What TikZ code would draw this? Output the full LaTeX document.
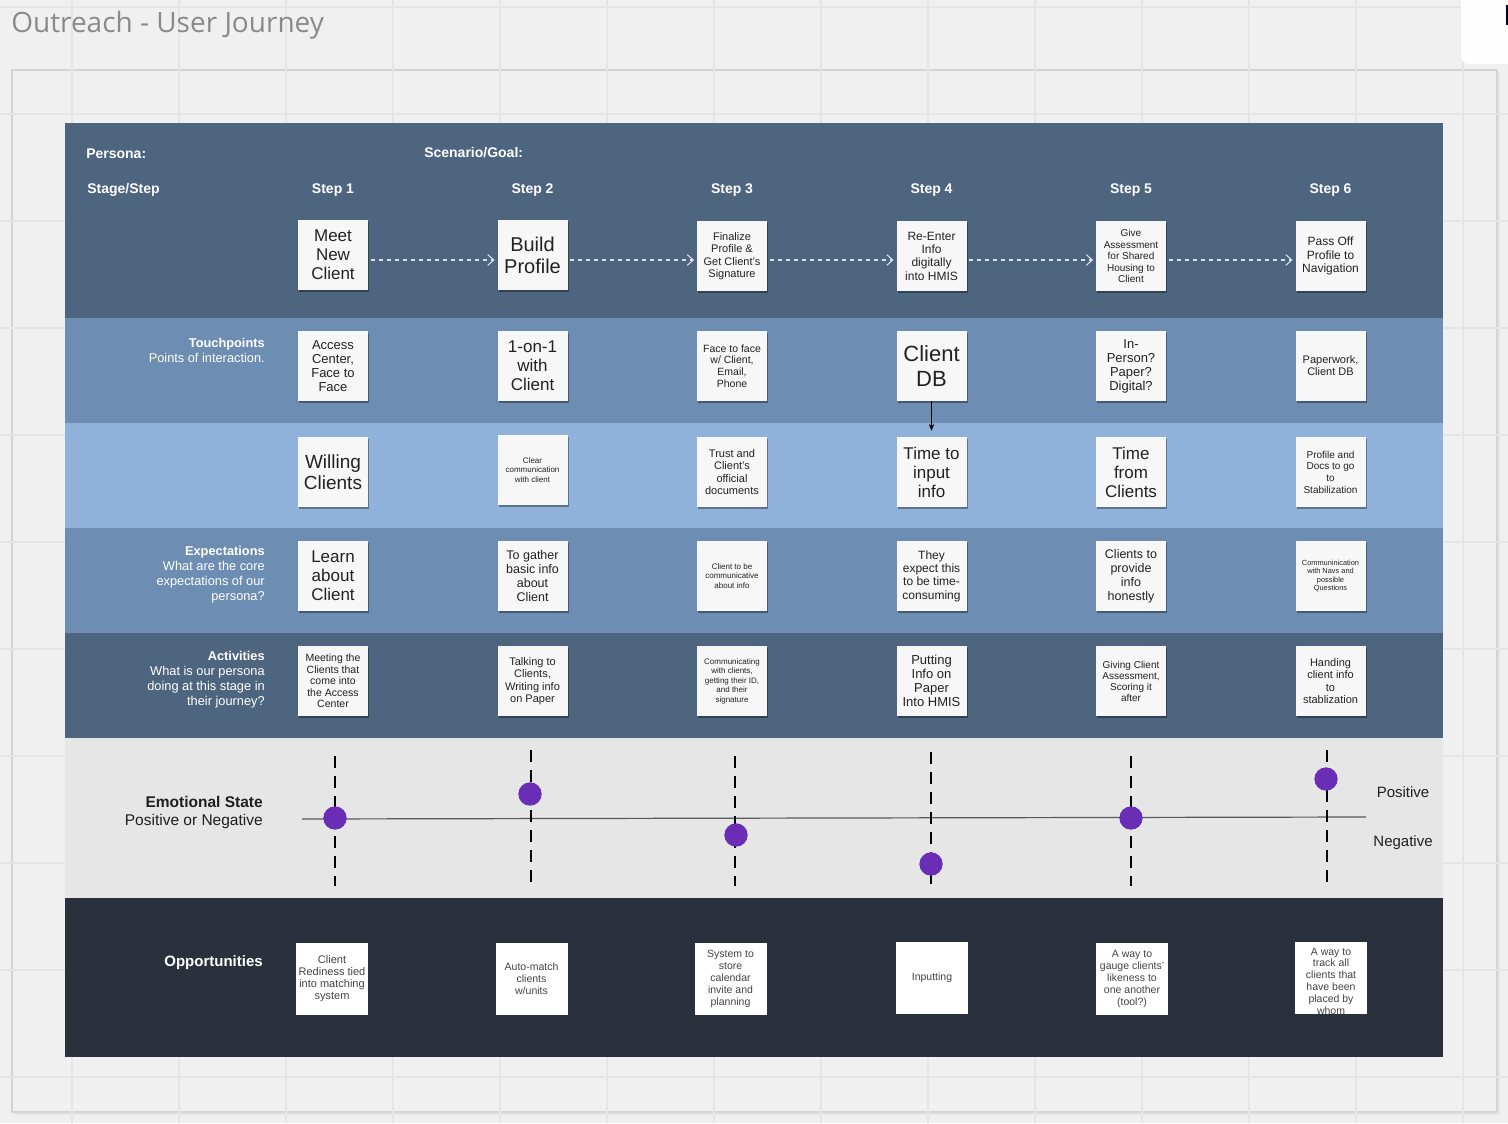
\documentclass[tikz,border=0pt]{standalone}
\usepackage{fontspec}
\setmainfont{Liberation Sans}
\newfontfamily\titlefont{Open Sans}
\usetikzlibrary{shadows,arrows.meta}

% font size given in pixels (size / leading)
\newcommand{\pxf}[2]{\fontsize{\fpeval{#1*0.75}pt}{\fpeval{#2*0.75}pt}\selectfont}

\definecolor{canvas}{HTML}{F0F0F0}
\definecolor{gridln}{HTML}{E5E5E5}
\definecolor{framebd}{HTML}{D4D4D4}
\definecolor{bandA}{HTML}{4E6580}
\definecolor{bandB}{HTML}{6D8DB2}
\definecolor{bandC}{HTML}{90B2DA}
\definecolor{emoband}{HTML}{E6E6E6}
\definecolor{oppband}{HTML}{2A313D}
\definecolor{notefill}{HTML}{F7F7F7}
\definecolor{notetext}{HTML}{222222}
\definecolor{dotpurple}{HTML}{6A2DB6}
\definecolor{titlegray}{HTML}{8A8A8A}
\definecolor{flowgray}{HTML}{DCE2EA}

\begin{document}
\begin{tikzpicture}[x=0.75pt,y=-0.75pt,
  note/.style={fill=notefill, minimum width=52.5pt, minimum height=52.5pt,
    inner sep=1pt, align=center, text=notetext,
    drop shadow={shadow xshift=0.8pt, shadow yshift=-1.3pt, opacity=0.35, fill=black}},
  opp/.style={fill=white, minimum width=54pt, minimum height=54pt,
    inner sep=1pt, align=center, text=notetext!85!white, font=\pxf{10.5}{11.8}},
  hdr/.style={text=white, font=\bfseries\pxf{14}{16}, inner sep=0},
  lbl/.style={text=white, align=right, anchor=east, inner sep=0, font=\pxf{12.8}{15}},
  flow/.style={flowgray, line width=0.8pt, dash pattern=on 3pt off 3pt,
    -{Straight Barb[length=4.5pt,width=8pt]}, shorten <=2pt, shorten >=2pt},
  stagedash/.style={black, line width=1.5pt, dash pattern=on 9pt off 6pt},
  mood/.style={circle, fill=dotpurple, minimum size=17.5pt, inner sep=0}]

\useasboundingbox (0,0) rectangle (1508,1123);
\fill[canvas] (0,0) rectangle (1508,1123);

% board frame with a soft shadow
\fill[black!10] (14,73) rectangle (1500,1115);
\filldraw[fill=canvas, draw=framebd, line width=1.2pt] (12,70) rectangle (1497,1112);

% canvas grid
\foreach \gx in {72,179,...,1500} \draw[gridln, line width=0.8pt] (\gx,0) -- (\gx,1123);
\foreach \gy in {7,114,...,1123} \draw[gridln, line width=0.8pt] (0,\gy) -- (1508,\gy);

% panel in the top right corner
\fill[white!97!canvas, rounded corners=6pt] (1461,-10) rectangle (1520,64);
\fill[black!85!blue] (1506,5) rectangle (1508,25);

% title
\node[anchor=west, inner sep=0, text=titlegray, font=\titlefont\pxf{28}{32}] (title) at (11,25) {Outreach - User Journey};

% swimlane bands
\fill[bandA]   (65,123) rectangle (1443,318);
\fill[bandB]   (65,318) rectangle (1443,423);
\fill[bandC]   (65,423) rectangle (1443,528);
\fill[bandB]   (65,528) rectangle (1443,633);
\fill[bandA]   (65,633) rectangle (1443,738);
\fill[emoband] (65,738) rectangle (1443,898);
\fill[oppband] (65,898) rectangle (1443,1057);

% header texts
\node[hdr, anchor=west] (persona) at (86,154) {Persona:};
\node[hdr, anchor=west] (scenario) at (424,153) {Scenario/Goal:};
\node[hdr, anchor=west] (stage) at (87,190) {Stage/Step};
\node[hdr] (h1) at (333,190) {Step 1};
\node[hdr] (h2) at (532.5,190) {Step 2};
\node[hdr] (h3) at (732,190) {Step 3};
\node[hdr] (h4) at (931.5,190) {Step 4};
\node[hdr] (h5) at (1131,190) {Step 5};
\node[hdr] (h6) at (1330.5,190) {Step 6};

% lane labels
\node[lbl] (ltouch) at (265,350) {{\bfseries Touchpoints}\\Points of interaction.};
\node[lbl] (lexp) at (265,575) {{\bfseries Expectations}\\What are the core\\expectations of our\\persona?};
\node[lbl] (lact) at (265,680) {{\bfseries Activities}\\What is our persona\\doing at this stage in\\their journey?};

% steps
\node[note, font=\pxf{17}{19}]   (s1) at (333,255)    {Meet\\New\\Client};
\node[note, font=\pxf{20}{22}]   (s2) at (532.5,255)  {Build\\Profile};
\node[note, font=\pxf{11}{12.5}] (s3) at (732,256)    {Finalize\\Profile \&\\Get Client's\\Signature};
\node[note, font=\pxf{12}{13.3}] (s4) at (931.5,256)  {Re-Enter\\Info\\digitally\\into HMIS};
\node[note, font=\pxf{10}{11.5}] (s5) at (1131,256)   {Give\\Assessment\\for Shared\\Housing to\\Client};
\node[note, font=\pxf{12}{13.5}] (s6) at (1330.5,256) {Pass Off\\Profile to\\Navigation};

\draw[flow] (s1.east |- 0,260) -- (s2.west |- 0,260);
\draw[flow] (s2.east |- 0,260) -- (s3.west |- 0,260);
\draw[flow] (s3.east |- 0,260) -- (s4.west |- 0,260);
\draw[flow] (s4.east |- 0,260) -- (s5.west |- 0,260);
\draw[flow] (s5.east |- 0,260) -- (s6.west |- 0,260);

% touchpoints
\node[note, font=\pxf{13}{14}]     (t1) at (333,366)    {Access\\Center,\\Face to\\Face};
\node[note, font=\pxf{17}{19}]     (t2) at (532.5,366)  {1-on-1\\with\\Client};
\node[note, font=\pxf{10.5}{11.7}] (t3) at (732,366)    {Face to face\\w/ Client,\\Email,\\Phone};
\node[note, font=\pxf{22}{25}]     (t4) at (931.5,366)  {Client\\DB};
\node[note, font=\pxf{13}{14}]     (t5) at (1131,366)   {In-\\Person?\\Paper?\\Digital?};
\node[note, font=\pxf{11}{12}]     (t6) at (1330.5,366) {Paperwork,\\Client DB};

% third lane
\node[note, font=\pxf{19}{21}]     (u1) at (333,472)    {Willing\\Clients};
\node[note, font=\pxf{8}{9.5}]     (u2) at (532.5,470)  {Clear\\communication\\with client};
\node[note, font=\pxf{11}{12.3}]   (u3) at (732,472)    {Trust and\\Client's\\official\\documents};
\node[note, font=\pxf{17}{19}]     (u4) at (931.5,472)  {Time to\\input\\info};
\node[note, font=\pxf{17}{19}]     (u5) at (1131,472)   {Time\\from\\Clients};
\node[note, font=\pxf{10}{11.7}]   (u6) at (1330.5,472) {Profile and\\Docs to go\\to\\Stabilization};

\draw[black, line width=0.6pt, -{Stealth[length=5pt,width=4pt]}, shorten >=4.5pt] (t4.south) -- (u4.north);

% expectations
\node[note, font=\pxf{17}{19}]     (e1) at (333,576)    {Learn\\about\\Client};
\node[note, font=\pxf{12.5}{14}]   (e2) at (532.5,576)  {To gather\\basic info\\about\\Client};
\node[note, font=\pxf{8}{9.5}]     (e3) at (732,576)    {Client to be\\communicative\\about info};
\node[note, font=\pxf{12}{13.3}]   (e4) at (931.5,576)  {They\\expect this\\to be time-\\consuming};
\node[note, font=\pxf{12.5}{14}]   (e5) at (1131,576)   {Clients to\\provide\\info\\honestly};
\node[note, font=\pxf{7.4}{8.5}]   (e6) at (1330.5,576) {Communinication\\with Navs and\\possible\\Questions};

% activities
\node[note, font=\pxf{10.5}{11.5}] (a1) at (333,681)    {Meeting the\\Clients that\\come into\\the Access\\Center};
\node[note, font=\pxf{11}{12.3}]   (a2) at (532.5,681)  {Talking to\\Clients,\\Writing info\\on Paper};
\node[note, font=\pxf{8}{9.5}]     (a3) at (732,681)    {Communicating\\with clients,\\getting their ID,\\and their\\signature};
\node[note, font=\pxf{13}{14}]     (a4) at (931.5,681)  {Putting\\Info on\\Paper\\Into HMIS};
\node[note, font=\pxf{10}{11}]     (a5) at (1131,681)   {Giving Client\\Assessment,\\Scoring it\\after};
\node[note, font=\pxf{11}{12.3}]   (a6) at (1330.5,681) {Handing\\client info\\to\\stablization};

% emotional state
\node[anchor=east, align=right, inner sep=0, text=black!88, font=\pxf{15.5}{18}] (lemo) at (263,812)
  {{\bfseries Emotional State}\\Positive or Negative};
\node[inner sep=0, text=black!88, font=\pxf{15}{18}] (pos) at (1403,792) {Positive};
\node[inner sep=0, text=black!88, font=\pxf{15}{18}] (neg) at (1403,843) {Negative};

\coordinate (emoL) at (302,819);
\coordinate (emoR) at (1366,817);
\draw[black!65, line width=0.9pt] (emoL) -- (emoR);

\foreach \i/\vx/\top in {1/335/756, 2/531/750, 3/735/756, 4/931/752, 5/1131/756, 6/1327/750} {
  \coordinate (vt\i) at (\vx,\top);
  \coordinate (vb\i) at (\vx,886);
  \draw[stagedash] (vt\i) -- (vb\i);
}

\node[mood] (m1) at (335,818) {};
\node[mood] (m2) at (530,794) {};
\node[mood] (m3) at (736,835) {};
\node[mood] (m4) at (931,864) {};
\node[mood] (m5) at (1131,818) {};
\node[mood] (m6) at (1326,779) {};

% opportunities
\node[anchor=east, inner sep=0, text=white, font=\bfseries\pxf{15}{18}] (lopp) at (263,963) {Opportunities};

\node[opp, font=\pxf{11}{12}] (o1) at (332,979)    {Client\\Rediness tied\\into matching\\system};
\node[opp] (o2) at (531.5,979)  {Auto-match\\clients\\w/units};
\node[opp] (o3) at (730.5,979)  {System to\\store\\calendar\\invite and\\planning};
\node[opp] (o4) at (932,978)    {Inputting};
\node[opp] (o5) at (1132,979)   {A way to\\gauge clients'\\likeness to\\one another\\(tool?)};
\node[opp] (o6) at (1331,978)   {};
\begin{scope}
  \clip (o6.south west) rectangle (o6.north east);
  \node[opp, fill=none, font=\pxf{10.5}{11.8}] (o6t) at (1331,981)
    {A way to\\track all\\clients that\\have been\\placed by\\whom};
\end{scope}

\end{tikzpicture}
\end{document}
